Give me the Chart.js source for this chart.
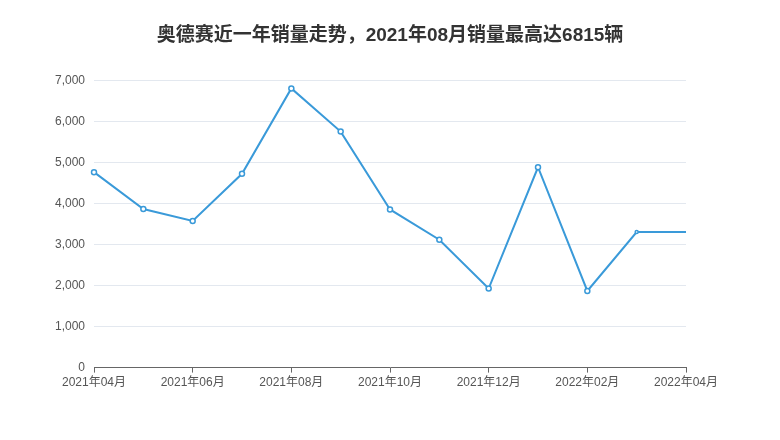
<!DOCTYPE html>
<html>
<head>
<meta charset="utf-8">
<script src="https://cdn.jsdelivr.net/npm/chart.js@4"></script>
<style>
  html, body { margin: 0; padding: 0; background: #fff; }
  #wrap { width: 780px; height: 440px; }
</style>
</head>
<body>
<div id="wrap"><canvas id="salesLine"></canvas></div>
<script>
// 奥德赛 monthly sales, last 12 months
const months = ['2021年04月', '2021年05月', '2021年06月', '2021年07月', '2021年08月', '2021年09月',
    '2021年10月', '2021年11月', '2021年12月', '2022年01月', '2022年02月', '2022年03月', '2022年04月'];
const sales = [4770, 3870, 3580, 4730, 6815, 5760, 3860, 3120, 1930, 4890, 1870, 3310, 3310];
const pointSizes = [2.5, 2.5, 2.5, 2.5, 2.5, 2.5, 2.5, 2.5, 2.5, 2.5, 2.5, 1.5, 0];
const yMax = 7000;
const yStep = 1000;

const fontFamily = "'Liberation Sans', 'Noto Sans CJK SC', sans-serif";
const sideWidth = 44;

const ctx = document.getElementById('salesLine');
new Chart(ctx.getContext('2d'), {
    type: 'line',
    data: {
        labels: months,
        datasets: [{
            data: sales,
            yAxisID: 'y',
            borderColor: '#3a9ad9',
            borderWidth: 2,
            backgroundColor: '#ffffff',
            pointBackgroundColor: '#ffffff',
            pointBorderColor: '#3a9ad9',
            pointBorderWidth: 1.5,
            pointRadius: pointSizes,
            tension: 0,
            fill: false
        }]
    },
    options: {
        responsive: true,
        maintainAspectRatio: false,
        animation: false,
        layout: {
            padding: { left: 50, right: 50, top: 0, bottom: 47 }
        },
        plugins: {
            legend: { display: false },
            tooltip: { enabled: false },
            title: {
                display: true,
                text: '奥德赛近一年销量走势，2021年08月销量最高达6815辆',
                color: '#333',
                font: { family: fontFamily, size: 19, weight: 'bold' },
                padding: { top: 24, bottom: 34 }
            }
        },
        scales: {
            x: {
                grid: {
                    drawOnChartArea: false,
                    drawTicks: true,
                    tickLength: 5,
                    color: '#666'
                },
                border: { color: '#666', width: 1 },
                ticks: {
                    autoSkip: false,
                    maxRotation: 0,
                    color: '#555',
                    padding: 3,
                    font: { family: fontFamily, size: 12 },
                    callback: function (val, i) {
                        return i % 2 === 0 ? months[i] : null;
                    }
                }
            },
            y: {
                position: 'left',
                min: 0,
                max: yMax,
                afterFit: function (scale) { scale.width = sideWidth; },
                grid: {
                    color: '#e3e8ef',
                    drawTicks: false
                },
                border: { display: false },
                ticks: {
                    stepSize: yStep,
                    color: '#555',
                    padding: 9,
                    font: { family: fontFamily, size: 12 }
                }
            },
            // empty right axis, only balances the left one so the title stays centred
            yRight: {
                type: 'linear',
                position: 'right',
                min: 0,
                max: yMax,
                afterFit: function (scale) { scale.width = sideWidth; },
                grid: { display: false },
                border: { display: false },
                ticks: { display: false }
            }
        }
    }
});
</script>
</body>
</html>
